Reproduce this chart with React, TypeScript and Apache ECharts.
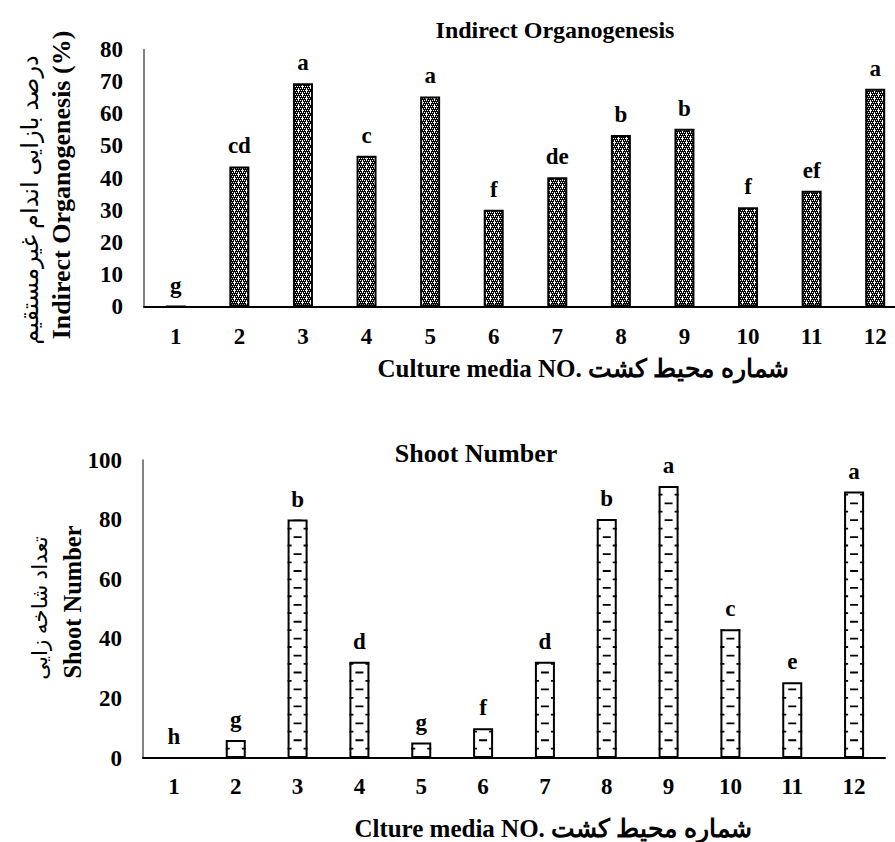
import React, { useEffect, useRef } from 'react';
import * as echarts from 'echarts';

const categories = ['1', '2', '3', '4', '5', '6', '7', '8', '9', '10', '11', '12'];
const organogenesisValues = [0, 43.6, 69.5, 46.9, 65.4, 30.1, 40.2, 53.4, 55.3, 30.9, 36.0, 67.8];
const organogenesisLetters = ['g', 'cd', 'a', 'c', 'a', 'f', 'de', 'b', 'b', 'f', 'ef', 'a'];
const shootValues = [0, 6.0, 80.0, 32.3, 5.2, 10.0, 32.3, 80.2, 91.3, 43.2, 25.4, 89.4];
const shootLetters = ['h', 'g', 'b', 'd', 'g', 'f', 'd', 'b', 'a', 'c', 'e', 'a'];
const organogenesisAxis = { min: 0, max: 80, interval: 10 };
const shootAxis = { min: 0, max: 100, interval: 20 };

const topTitle = 'Indirect Organogenesis';
const bottomTitle = 'Shoot Number';
const topXName = 'Culture media NO. شماره محیط کشت';
const bottomXName = 'Clture media NO. شماره محیط کشت';
const topYNameFa = 'درصد بازایی اندام غیرمستقیم';
const topYNameEn = 'Indirect Organogenesis (%)';
const bottomYNameFa = 'تعداد شاخه زایی';
const bottomYNameEn = 'Shoot Number';

const SERIF = "'Liberation Serif', 'Times New Roman', 'DejaVu Serif', serif";
const FA = "'Liberation Serif', 'DejaVu Sans', sans-serif";

function makeDotTile(): string {
  const size = 8;
  const c = document.createElement('canvas');
  c.width = size;
  c.height = size;
  const ctx = c.getContext('2d');
  if (!ctx) return '';
  ctx.fillStyle = '#000000';
  ctx.fillRect(0, 0, size, size);
  ctx.fillStyle = '#ffffff';
  for (let y = 0; y < size; y += 2) {
    for (let x = 0; x < size; x += 2) {
      ctx.fillRect(x + ((y / 2) % 2), y, 1, 1);
    }
  }
  const crosses = [[2, 2], [6, 6]];
  crosses.forEach(([cx, cy]) => {
    ctx.fillRect(cx, cy, 1, 1);
    ctx.fillRect(cx - 1, cy, 1, 1);
    ctx.fillRect(cx + 1, cy, 1, 1);
    ctx.fillRect(cx, cy - 1, 1, 1);
    ctx.fillRect(cx, (cy + 1) % size, 1, 1);
  });
  return c.toDataURL();
}

export default function App() {
  const ref = useRef<HTMLDivElement>(null);

  useEffect(() => {
    if (!ref.current) return;
    const chart = echarts.init(ref.current, null, { renderer: 'svg' });
    const tile = makeDotTile();

    const yTitle = (text: string, x: number, y: number, bold: boolean, size: number, font: string) => ({
      type: 'text',
      x,
      y,
      rotation: Math.PI / 2,
      style: {
        text,
        fill: '#000',
        font: `${bold ? 'bold ' : ''}${size}px ${font}`,
        align: 'center',
        verticalAlign: 'middle',
      },
    });
    const hText = (text: string, x: number, y: number, size: number) => ({
      type: 'text',
      x,
      y,
      style: {
        text,
        fill: '#000',
        font: `bold ${size}px ${SERIF}`,
        align: 'center',
        verticalAlign: 'middle',
      },
    });

    const axisLabel = { color: '#000', fontFamily: SERIF, fontWeight: 'bold', fontSize: 23 };
    const barLabel = (letters: string[]) => ({
      show: true,
      position: 'top',
      distance: 9,
      color: '#000',
      fontFamily: SERIF,
      fontWeight: 'bold',
      fontSize: 23,
      formatter: (p: any) => letters[p.dataIndex],
    });

    chart.setOption({
      animation: false,
      backgroundColor: '#ffffff',
      grid: [
        { left: 144, width: 763, top: 49.5, height: 257, outerBoundsMode: 'none', containLabel: false },
        { left: 143, width: 742, top: 460, height: 298, outerBoundsMode: 'none', containLabel: false },
      ],
      xAxis: [
        {
          type: 'category',
          gridIndex: 0,
          data: categories,
          axisLine: { lineStyle: { color: '#000', width: 2 } },
          axisTick: { show: false },
          axisLabel: { ...axisLabel, margin: 18 },
        },
        {
          type: 'category',
          gridIndex: 1,
          data: categories,
          axisLine: { lineStyle: { color: '#000', width: 2 } },
          axisTick: { show: false },
          axisLabel: { ...axisLabel, margin: 17 },
        },
      ],
      yAxis: [
        {
          type: 'value',
          gridIndex: 0,
          min: organogenesisAxis.min,
          max: organogenesisAxis.max,
          interval: organogenesisAxis.interval,
          axisLine: { show: true, lineStyle: { color: '#595959', width: 1.5 } },
          axisTick: { show: false },
          splitLine: { show: false },
          axisLabel: { ...axisLabel, margin: 21 },
        },
        {
          type: 'value',
          gridIndex: 1,
          min: shootAxis.min,
          max: shootAxis.max,
          interval: shootAxis.interval,
          axisLine: { show: true, lineStyle: { color: '#595959', width: 1.5 } },
          axisTick: { show: false },
          splitLine: { show: false },
          axisLabel: { ...axisLabel, margin: 21 },
        },
      ],
      series: [
        {
          type: 'bar',
          xAxisIndex: 0,
          yAxisIndex: 0,
          data: organogenesisValues,
          barWidth: 20,
          z: 2,
          itemStyle: {
            color: { image: tile, repeat: 'repeat', imageWidth: 8, imageHeight: 8 },
            borderColor: '#000',
            borderWidth: 2,
          },
          label: barLabel(organogenesisLetters),
        },
        {
          type: 'bar',
          xAxisIndex: 1,
          yAxisIndex: 1,
          data: shootValues,
          barWidth: 20,
          z: 2,
          itemStyle: { color: '#ffffff', borderColor: '#000', borderWidth: 2 },
          label: barLabel(shootLetters),
        },
        {
          type: 'pictorialBar',
          xAxisIndex: 1,
          yAxisIndex: 1,
          data: shootValues,
          z: 3,
          silent: true,
          symbol: 'path://M0,0h4v1.8h-4z M16,0h4v1.8h-4z M6,8.5h8v1.8h-8z',
          symbolSize: [20, 10.3],
          symbolRepeat: true,
          symbolClip: true,
          symbolBoundingData: shootAxis.max,
          symbolMargin: 3.4,
          symbolPosition: 'start',
          itemStyle: { color: '#000' },
        },
      ],
      graphic: [
        hText(topTitle, 555, 30, 24),
        hText(bottomTitle, 476, 453, 26),
        hText(topXName, 583, 368, 25),
        hText(bottomXName, 553, 828, 25),
        yTitle(topYNameFa, 30, 200, false, 24, FA),
        yTitle(topYNameEn, 61, 185, true, 26, SERIF),
        yTitle(bottomYNameFa, 40, 608, false, 21.5, FA),
        yTitle(bottomYNameEn, 72, 602, true, 24.5, SERIF),
      ],
    });

    return () => chart.dispose();
  }, []);

  return (
    <div
      ref={ref}
      style={{ position: 'absolute', left: 0, top: 0, width: 895, height: 842, background: '#fff' }}
    />
  );
}
